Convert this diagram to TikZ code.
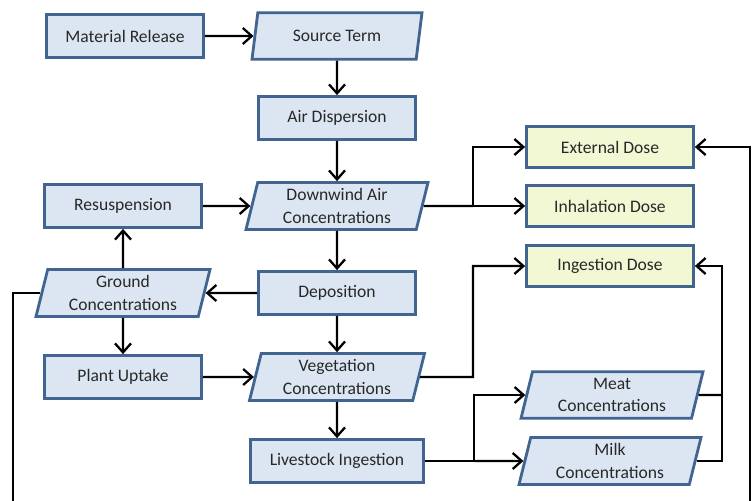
\documentclass[tikz,border=0pt]{standalone}
\usepackage{fontspec}
\setmainfont{Carlito}
\usetikzlibrary{shapes.geometric,arrows.meta}

\definecolor{boxfill}{RGB}{220,230,242}
\definecolor{boxline}{RGB}{65,100,145}
\definecolor{dosefill}{RGB}{242,247,212}
\definecolor{textgray}{RGB}{40,40,40}

\begin{document}
\begin{tikzpicture}[x=0.02cm, y=-0.02cm,
    >={Straight Barb[length=1.8mm,width=3.2mm]},
    line width=1.3pt,
    procbox/.style={draw=boxline, line width=1.6pt, fill=boxfill, rectangle,
        minimum width=3.14cm, minimum height=0.86cm, align=center,
        text=textgray, font=\fontsize{10}{13}\selectfont},
    databox/.style={procbox, trapezium, trapezium left angle=76,
        trapezium right angle=104, trapezium stretches body,
        minimum width=3.5cm, minimum height=0.93cm},
    dosebox/.style={procbox, fill=dosefill, minimum width=3.34cm, minimum height=0.82cm}]
    \useasboundingbox (0,0) rectangle (753,500);

    % Release and air pathway
    \node[procbox] (release) at (125,36) {Material Release};
    \node[databox, minimum width=3.4cm] (source) at (337,36) {Source Term};
    \node[procbox] (dispersion) at (337,118) {Air Dispersion};
    \node[databox, minimum width=3.64cm] (downwind) at (337,206) {Downwind Air\\Concentrations};
    \node[procbox] (resuspension) at (123,206) {Resuspension};

    % Ground and food chain
    \node[databox, minimum width=3.48cm] (ground) at (123,293) {Ground\\Concentrations};
    \node[procbox] (deposition) at (337,293) {Deposition};
    \node[procbox] (uptake) at (123,377) {Plant Uptake};
    \node[databox] (vegetation) at (337,377) {Vegetation\\Concentrations};
    \node[procbox, minimum width=3.46cm] (livestock) at (337,461) {Livestock Ingestion};

    % Doses
    \node[dosebox] (external) at (610,147) {External Dose};
    \node[dosebox] (inhalation) at (610,206) {Inhalation Dose};
    \node[dosebox] (ingestion) at (610,266) {Ingestion Dose};

    % Animal products
    \node[databox, minimum width=3.64cm] (meat) at (612,395) {Meat\\Concentrations};
    \node[databox, minimum width=3.64cm] (milk) at (610,461) {Milk\\Concentrations};

    % Branch points
    \coordinate (airsplit) at (473,206);
    \coordinate (vegsplit) at (473,377);
    \coordinate (feedsplit) at (474,461);
    \coordinate (foodjoin) at (722,395);
    \coordinate (loopleft) at (13,512);
    \coordinate (loopright) at (750,512);

    % Main flow
    \draw[->] (release) -- (source);
    \draw[->] (source) -- (dispersion);
    \draw[->] (dispersion) -- (downwind);
    \draw[->] (resuspension) -- (downwind);
    \draw[->] (downwind) -- (deposition);
    \draw[->] (deposition) -- (ground);
    \draw[->] (ground) -- (resuspension);
    \draw[->] (ground) -- (uptake);
    \draw[->] (uptake) -- (vegetation);
    \draw[->] (deposition) -- (vegetation);
    \draw[->] (vegetation) -- (livestock);

    % Arrows to the doses
    \draw (downwind) -- (airsplit);
    \draw[->] (airsplit) |- (external);
    \draw[->] (airsplit) -- (inhalation);
    \draw[->] (vegetation) -- (vegsplit) |- (ingestion);
    \draw (livestock) -- (feedsplit);
    \draw[->] (feedsplit) |- (meat);
    \draw[->] (feedsplit) -- (milk);
    \draw (meat) -- (foodjoin);
    \draw[->] (milk) -| (foodjoin) |- (ingestion);
    \draw[->] (ground) -| (loopleft) -- (loopright) |- (external);

\end{tikzpicture}
\end{document}
